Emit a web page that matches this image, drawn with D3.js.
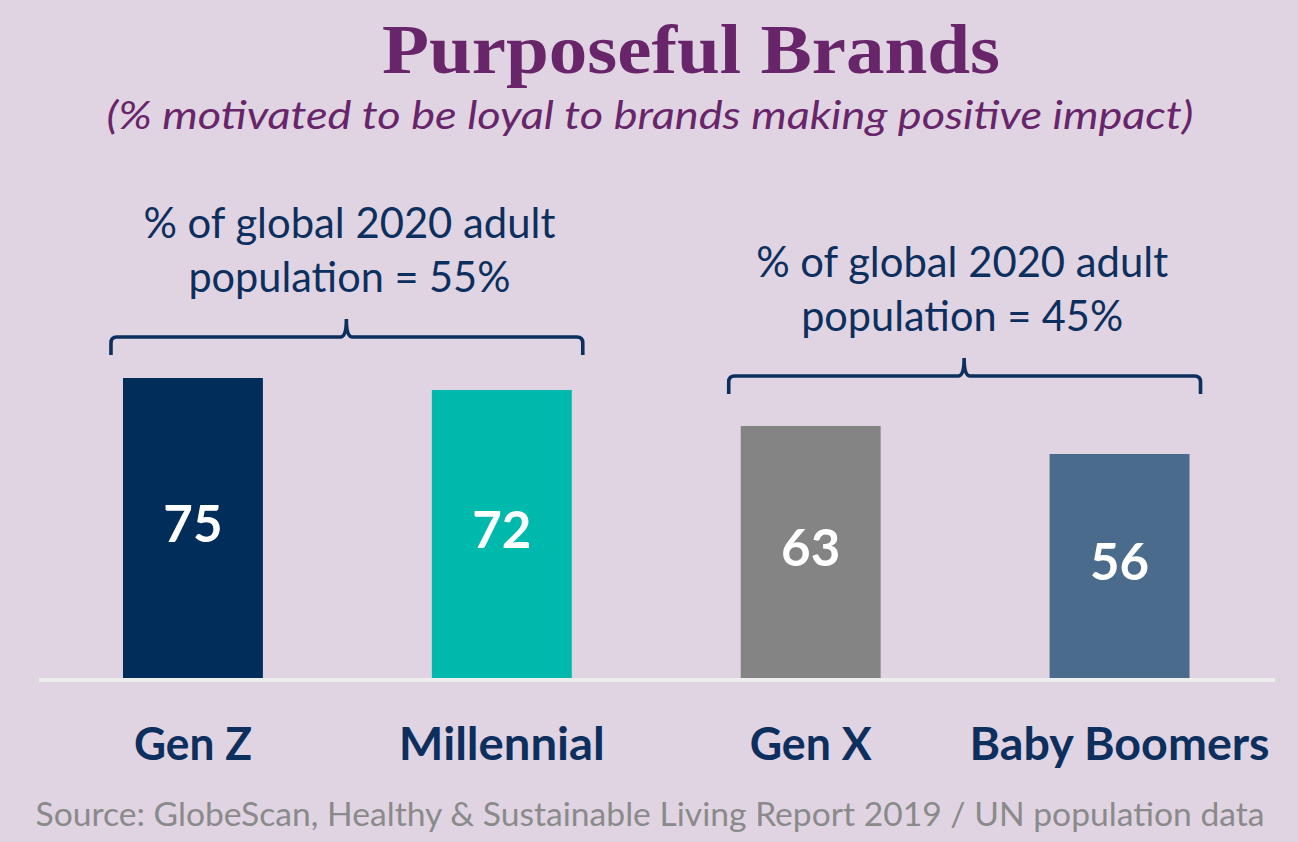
<!DOCTYPE html>
<html>
<head>
<meta charset="utf-8">
<script src="https://cdn.jsdelivr.net/npm/d3@7/dist/d3.min.js"></script>
<style>
  html, body { margin: 0; padding: 0; background: #e0d4e3; }
  svg { display: block; }
</style>
</head>
<body>
<svg id="chart" width="1298" height="842"></svg>
<script>
const categories = ["Gen Z", "Millennial", "Gen X", "Baby Boomers"];
const values = [75, 72, 63, 56];
const barColors = ["#012d5b", "#00b9ad", "#848484", "#4a6b8b"];
const groupFirst = ["Gen Z", "Gen X"];
const groupLast = ["Millennial", "Baby Boomers"];
const groupShares = [55, 45];

const navy = "#0d2f5e";
const svg = d3.select("#chart");

// fit a text element to a width measured off the reference
function fit(sel, w) {
  sel.attr("textLength", w).attr("lengthAdjust", "spacingAndGlyphs");
}

const x = d3.scaleBand()
  .domain(categories)
  .range([38.5, 1274])
  .paddingInner(0.547)
  .paddingOuter(0.2735);

const y = d3.scaleLinear().domain([0, 75]).range([678, 378]);

// title + subtitle
svg.append("text")
  .attr("x", 691).attr("y", 73)
  .attr("text-anchor", "middle")
  .attr("font-family", "Liberation Serif, serif")
  .attr("font-weight", "bold")
  .attr("font-size", 70)
  .attr("fill", "#68256a")
  .text("Purposeful Brands")
  .call(fit, 618);

svg.append("text")
  .attr("x", 650).attr("y", 129)
  .attr("text-anchor", "middle")
  .attr("font-family", "Lato, sans-serif")
  .attr("font-style", "italic")
  .attr("font-size", 38)
  .attr("fill", "#68256a")
  .text("(% motivated to be loyal to brands making positive impact)")
  .call(fit, 1087);

// bars
svg.append("g").selectAll("rect")
  .data(values)
  .join("rect")
  .attr("x", (d, i) => x(categories[i]))
  .attr("y", d => y(d))
  .attr("width", x.bandwidth())
  .attr("height", d => y(0) - y(d))
  .attr("fill", (d, i) => barColors[i]);

// value labels
svg.append("g").selectAll("text")
  .data(values)
  .join("text")
  .attr("x", (d, i) => x(categories[i]) + x.bandwidth() / 2)
  .attr("y", d => (y(d) + y(0)) / 2 + 14)
  .attr("text-anchor", "middle")
  .attr("font-family", "Lato, sans-serif")
  .attr("font-weight", "bold")
  .attr("font-size", 51)
  .attr("fill", "#ffffff")
  .text(d => d);

// baseline
svg.append("line")
  .attr("x1", 39).attr("x2", 1275)
  .attr("y1", y(0) + 2).attr("y2", y(0) + 2)
  .attr("stroke", "#eeeeee")
  .attr("stroke-width", 4);

// category axis
const axis = svg.append("g")
  .attr("transform", `translate(0,${y(0)})`)
  .call(d3.axisBottom(x).tickSize(0).tickPadding(0));
axis.select(".domain").remove();
const catWidths = [118, 206, 122, 300];
axis.selectAll(".tick text")
  .attr("dy", 0)
  .attr("y", 82)
  .attr("font-family", "Lato, sans-serif")
  .attr("font-weight", "bold")
  .attr("font-size", 46)
  .attr("fill", navy)
  .each(function (d, i) { d3.select(this).call(fit, catWidths[i]); });

// brackets + group notes
const groupTop = [337, 376];
const noteShift = [3, -2];
groupFirst.forEach((first, i) => {
  const x1 = x(first) - 12;
  const x2 = x(groupLast[i]) + x.bandwidth() + 11;
  const xm = (x1 + x2) / 2 - 0.5;
  const yh = groupTop[i];
  const yb = yh + 18, yt = yh - 18, r = 6;
  const p = d3.path();
  p.moveTo(x1, yb);
  p.lineTo(x1, yh + r);
  p.quadraticCurveTo(x1, yh, x1 + r, yh);
  p.lineTo(xm - r, yh);
  p.quadraticCurveTo(xm, yh, xm, yt);
  p.quadraticCurveTo(xm, yh, xm + r, yh);
  p.lineTo(x2 - r, yh);
  p.quadraticCurveTo(x2, yh, x2, yh + r);
  p.lineTo(x2, yb);
  svg.append("path")
    .attr("d", p.toString())
    .attr("fill", "none")
    .attr("stroke", navy)
    .attr("stroke-width", 3.6);

  const cx = xm + noteShift[i];
  const note = svg.append("text")
    .attr("text-anchor", "middle")
    .attr("font-family", "Lato, sans-serif")
    .attr("font-size", 42)
    .attr("fill", navy);
  note.append("tspan")
    .attr("x", cx).attr("y", yh - 99)
    .text("% of global 2020 adult")
    .call(fit, 412);
  note.append("tspan")
    .attr("x", cx).attr("y", yh - 45)
    .text(`population = ${groupShares[i]}%`)
    .call(fit, 322);
});

// source
svg.append("text")
  .attr("x", 650).attr("y", 826)
  .attr("text-anchor", "middle")
  .attr("font-family", "Lato, sans-serif")
  .attr("font-size", 32)
  .attr("fill", "#8a8a8a")
  .text("Source: GlobeScan, Healthy & Sustainable Living Report 2019 / UN population data")
  .call(fit, 1229);
</script>
</body>
</html>
